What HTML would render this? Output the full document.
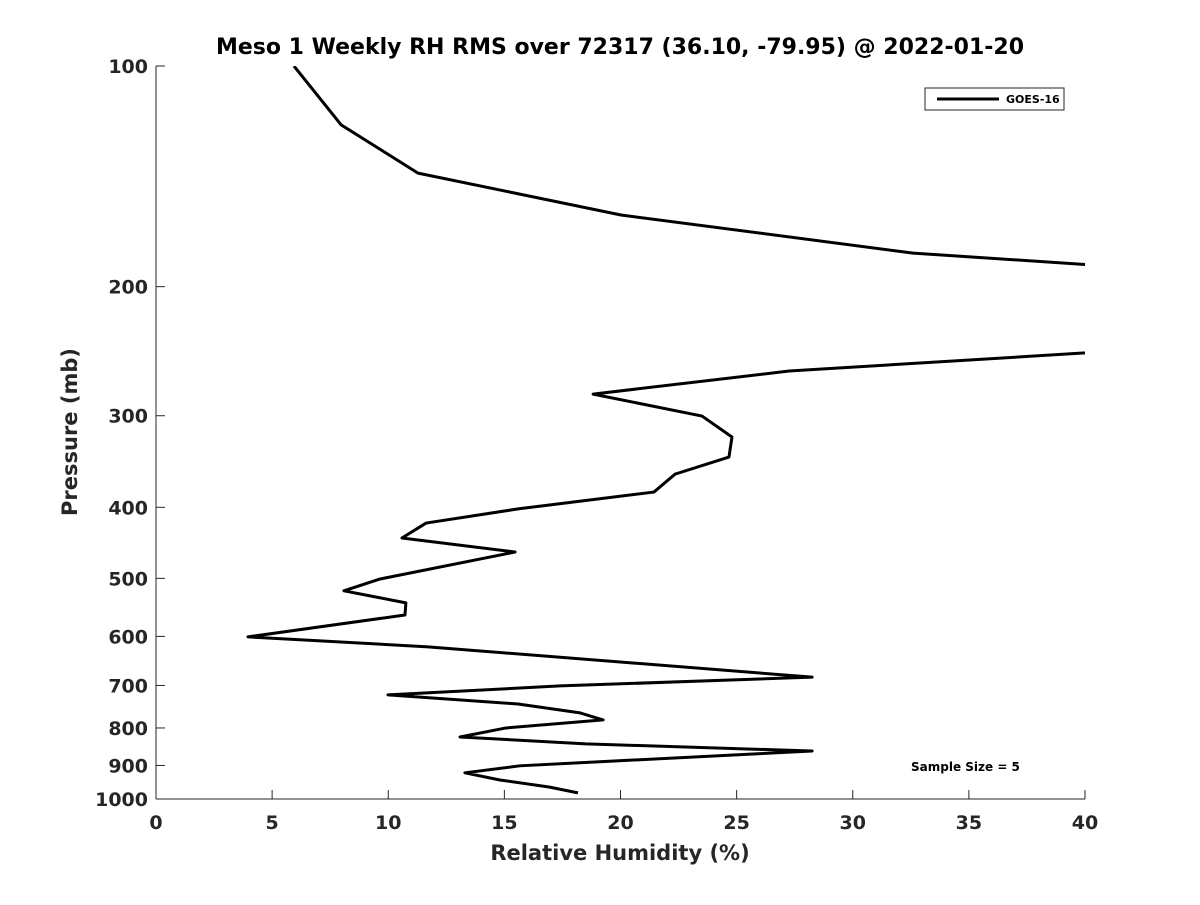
<!DOCTYPE html>
<html><head><meta charset="utf-8"><style>
body{margin:0;background:#fff}
svg{font-family:"DejaVu Sans","Liberation Sans",sans-serif;font-weight:bold}
</style></head><body>
<svg id="c" width="1200" height="900">
<defs><clipPath id="clip"><rect x="156" y="66" width="929" height="733"/></clipPath></defs>
</svg>
<script>
const rh=[5.94,7.97,11.28,20.02,32.6,40.5,48,45.8,27.26,18.82,23.51,24.8,24.67,22.35,21.44,15.59,11.63,10.59,15.46,9.65,8.09,10.76,10.72,3.96,11.71,28.25,17.4,9.99,15.59,18.26,19.25,15.07,13.09,18.51,28.25,15.67,13.3,14.81,16.92,18.17];
const pres=[100,120.3,140,159.7,180,187,200,240,260.7,280.3,300.3,320.7,341.6,360.4,381.3,402,420.3,440.5,460.3,501,520,540,561,601,620,682,701,721,742,763,780,800,823,841,860,901,921,942,963,981];
const xTicks=[0,5,10,15,20,25,30,35,40];
const yTicks=[100,200,300,400,500,600,700,800,900,1000];
const X0=156,X1=1085,Y0=66,Y1=799;
const sx=v=>X0+(v-0)/40*(X1-X0);
const sy=p=>Y0+(Math.log10(p)-2)*(Y1-Y0);
const svg=document.getElementById('c');const NS='http://www.w3.org/2000/svg';
function mk(t,a,txt){const e=document.createElementNS(NS,t);for(const k in a)e.setAttribute(k,a[k]);if(txt!==undefined)e.textContent=txt;svg.appendChild(e);return e;}
let e=mk('line',{x1:X0,y1:Y0,x2:X0,y2:Y1,stroke:'#262626','stroke-width':1});

e=mk('line',{x1:X0,y1:Y1,x2:X1,y2:Y1,stroke:'#262626','stroke-width':1});

xTicks.forEach(v=>{const x=sx(v);
e=mk('line',{x1:x,y1:Y1,x2:x,y2:Y1-9,stroke:'#262626'});

e=mk('text',{x:x,y:Y1+30,'text-anchor':'middle','font-size':19,fill:'#262626'},v);
});
yTicks.forEach(p=>{const y=sy(p);
e=mk('line',{x1:X0,y1:y,x2:X0+9,y2:y,stroke:'#262626'});

e=mk('text',{x:X0-8,y:y+7,'text-anchor':'end','font-size':19,fill:'#262626'},p);
});
e=mk('polyline',{points:rh.map((v,i)=>sx(v)+','+sy(pres[i])).join(' '),fill:'none',stroke:'#000','stroke-width':3,'clip-path':'url(#clip)','stroke-linejoin':'round'});

e=mk('text',{x:620,y:54,'text-anchor':'middle','font-size':22,fill:'#000'},'Meso 1 Weekly RH RMS over 72317 (36.10, -79.95) @ 2022-01-20');

e=mk('text',{x:620,y:860,'text-anchor':'middle','font-size':21,fill:'#262626'},'Relative Humidity (%)');

e=mk('text',{x:0,y:0,'text-anchor':'middle','font-size':21,fill:'#262626',transform:'translate(77,432) rotate(-90)'},'Pressure (mb)');

e=mk('rect',{x:925,y:88,width:139,height:22,fill:'#fff',stroke:'#262626'});

e=mk('line',{x1:937,y1:99,x2:999,y2:99,stroke:'#000','stroke-width':3});

e=mk('text',{x:1006,y:103,'font-size':11,fill:'#000'},'GOES-16');

e=mk('text',{x:911,y:771,'font-size':12,fill:'#000'},'Sample Size = 5');

</script>
</body></html>
